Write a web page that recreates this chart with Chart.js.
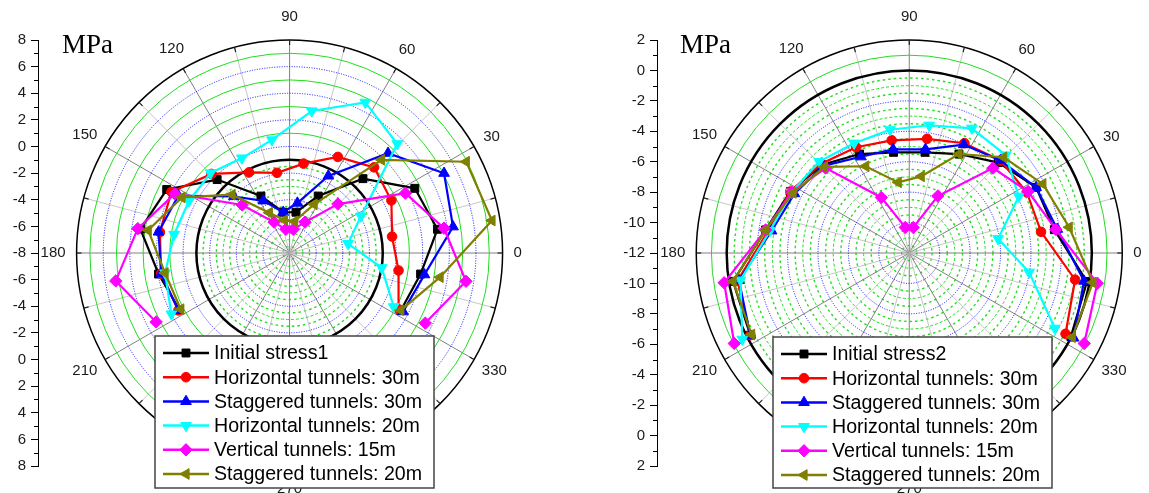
<!DOCTYPE html>
<html>
<head>
<meta charset="utf-8">
<script src="https://cdn.jsdelivr.net/npm/chart.js@4.4.1/dist/chart.umd.min.js"></script>
<style>
  body { margin: 0; background: #fff; width: 1149px; height: 493px; position: relative; overflow: hidden; }
  canvas { position: absolute; top: 0; }
</style>
</head>
<body>
<canvas id="chartLeft" width="575" height="493" style="left:0"></canvas>
<canvas id="chartRight" width="574" height="493" style="left:575px"></canvas>
<script>
// angles (deg) of the measuring points, shared by all series
const angles = [-27, -9, 9, 27, 45, 63, 81, 99, 117, 135, 153, 171, 189, 207];
const angleTicks = [0, 30, 60, 90, 120, 150, 180, 210, 240, 270, 300, 330];

// left panel, radial axis -8 .. 8 MPa
const initial1 = [1.5, 2.1, 3.4, 2.7, -0.1, -3.2, -4.9, -4.9, -3.2, -0.2, 2.5, 3.5, 2.1, 1.4];
const horiz30a = [1.3, 0.4, -0.1, 0.7, 1.1, 0.1, -1.2, -1.9, -1.2, 0.4, 2.1, 2.0, 1.9, 1.5];
const stag30a = [1.7, 2.4, 4.6, 5.2, 2.6, -1.5, -4.2, -4.9, -3.6, -2.0, 1.5, 2.1, 1.9, 1.5];
const horiz20a = [0.9, -0.9, -3.5, -1.9, 3.6, 4.7, 2.8, 0.6, 0.0, 0.5, 0.6, 0.9, 1.6, 2.1];
const vert15a = [3.6, 5.6, 3.9, 1.9, -2.8, -5.4, -6.2, -6.2, -5.4, -2.9, 1.8, 3.7, 5.4, 3.4];
const stag20a = [1.5, 3.6, 7.6, 7.1, 1.9, -3.9, -5.6, -5.5, -4.6, -1.8, 1.2, 2.9, 1.6, 1.3];

// right panel, radial axis -12 .. 2 MPa
const initial2 = [0.1, 0.0, -2.2, -2.5, -3.6, -4.7, -5.3, -5.3, -4.7, -3.8, -3.1, -2.3, -0.1, -0.1];
const horiz30b = [-0.3, -0.8, -3.1, -3.2, -3.4, -3.9, -4.4, -4.5, -4.2, -3.7, -3.1, -2.5, -0.4, -0.1];
const stag30b = [0.3, -0.2, -2.0, -2.5, -3.4, -4.0, -5.1, -5.1, -4.9, -3.9, -3.4, -2.7, -0.5, -0.1];
const horiz20b = [-1.1, -3.9, -6.0, -3.8, -2.9, -2.8, -3.5, -3.8, -3.9, -3.5, -3.2, -2.6, -0.6, 0.5];
const vert15b = [1.1, 0.7, -2.1, -3.1, -4.1, -7.8, -10.3, -10.3, -7.9, -4.1, -3.2, -2.3, 0.5, 1.1];
const stag20b = [0.2, 0.4, -1.2, -2.0, -3.1, -4.7, -6.9, -7.3, -5.6, -4.0, -3.3, -2.3, -0.1, -0.2];

const names1 = ['Initial stress1', 'Horizontal tunnels: 30m', 'Staggered tunnels: 30m',
  'Horizontal tunnels: 20m', 'Vertical tunnels: 15m', 'Staggered tunnels: 20m'];
const names2 = ['Initial stress2', 'Horizontal tunnels: 30m', 'Staggered tunnels: 30m',
  'Horizontal tunnels: 20m', 'Vertical tunnels: 15m', 'Staggered tunnels: 20m'];

const colors = ['#000000', '#ff0000', '#0000ff', '#00ffff', '#ff00ff', '#808000'];
const markers = ['rect', 'circle', 'triangle', 'triangle', 'rectRot', 'triangle'];
const markerRot = [0, 0, 0, 180, 0, -90];
const markerSize = [5.6, 4.8, 6.2, 6.2, 6.2, 6.2];

const FONT = 'Liberation Sans, Arial, sans-serif';

function toXY(vals, rMin) {
  return vals.map((v, i) => {
    const t = angles[i] * Math.PI / 180;
    return { x: (v - rMin) * Math.cos(t), y: (v - rMin) * Math.sin(t) };
  });
}

const polarPlugin = {
  id: 'polar',
  beforeDatasetsDraw(chart, args, o) {
    const ctx = chart.ctx;
    const xs = chart.scales.x, ys = chart.scales.y;
    const cx = xs.getPixelForValue(0), cy = ys.getPixelForValue(0);
    const unit = cy - ys.getPixelForValue(1);
    const rad = v => (v - o.rMin) * unit;
    const R = rad(o.rMax);
    const circle = (r, color, width, dash) => {
      ctx.beginPath();
      ctx.strokeStyle = color;
      ctx.lineWidth = width;
      ctx.setLineDash(dash || []);
      ctx.arc(cx, cy, r, 0, Math.PI * 2);
      ctx.stroke();
    };
    ctx.save();
    // textured minor grid inside the thick ring
    for (let v = o.rMin + 0.5; v < o.ring; v += 1) {
      circle(rad(v), '#22dd22', 1.4, [2.5, 3]);
    }
    // spokes
    ctx.setLineDash([]);
    for (let a = 0; a < 360; a += 15) {
      const t = a * Math.PI / 180;
      ctx.beginPath();
      ctx.strokeStyle = a % 30 === 0 ? '#808080' : '#c6c6c6';
      ctx.lineWidth = 1;
      ctx.moveTo(cx, cy);
      ctx.lineTo(cx + R * Math.cos(t), cy - R * Math.sin(t));
      ctx.stroke();
    }
    // integer rings: green at odd values, blue dotted at even values
    for (let v = o.rMin + 1; v < o.rMax; v++) {
      if (Math.abs(v) % 2 === 1) circle(rad(v), '#20dd20', 1, v < o.ring ? [3, 2] : []);
      else circle(rad(v), '#1010ff', 1, [1, 1.5]);
    }
    circle(rad(o.ring), '#000', 2.5);
    circle(R, '#000', 1.5);
    // ticks on the outer ring
    ctx.setLineDash([]);
    ctx.strokeStyle = '#222';
    ctx.lineWidth = 1.2;
    for (let a = 0; a < 360; a += 15) {
      const t = a * Math.PI / 180;
      ctx.beginPath();
      ctx.moveTo(cx + (R - 5) * Math.cos(t), cy - (R - 5) * Math.sin(t));
      ctx.lineTo(cx + R * Math.cos(t), cy - R * Math.sin(t));
      ctx.stroke();
    }
    ctx.restore();
  },
  afterDraw(chart, args, o) {
    const ctx = chart.ctx;
    const xs = chart.scales.x, ys = chart.scales.y;
    const cx = xs.getPixelForValue(0), cy = ys.getPixelForValue(0);
    const unit = cy - ys.getPixelForValue(1);
    const R = (o.rMax - o.rMin) * unit;
    ctx.save();
    // minor ticks on the radial axis
    ctx.strokeStyle = '#000';
    ctx.lineWidth = 1;
    const span = o.rMax - o.rMin;
    for (let v = -span + 1; v < span; v += 2) {
      const py = Math.round(ys.getPixelForValue(v)) + 0.5;
      ctx.beginPath();
      ctx.moveTo(ys.right - 4, py);
      ctx.lineTo(ys.right, py);
      ctx.stroke();
    }
    // angle labels
    ctx.fillStyle = '#1a1a1a';
    ctx.font = '15px ' + FONT;
    ctx.textAlign = 'center';
    ctx.textBaseline = 'middle';
    angleTicks.forEach(a => {
      const t = a * Math.PI / 180;
      const txt = String(a);
      const w = ctx.measureText(txt).width;
      const c = Math.cos(t), s = Math.sin(t);
      const d = R + 11 + (w / 2) * c * c + 12 * s * s;
      ctx.fillText(txt, cx + d * c, cy - d * s);
    });
    // unit label
    ctx.font = '27px Liberation Serif, Times New Roman, serif';
    ctx.textAlign = 'left';
    ctx.textBaseline = 'alphabetic';
    ctx.fillStyle = '#000';
    ctx.fillText('MPa', o.unitX, 53);
    // legend box
    const lg = o.legend;
    ctx.fillStyle = '#fff';
    ctx.fillRect(lg.x, lg.y, lg.w, lg.h);
    ctx.strokeStyle = '#444';
    ctx.lineWidth = 1.5;
    ctx.strokeRect(lg.x, lg.y, lg.w, lg.h);
    ctx.font = '19.6px ' + FONT;
    ctx.textBaseline = 'middle';
    chart.data.datasets.forEach((ds, i) => {
      const yy = lg.y + 17 + i * 24.2;
      ctx.strokeStyle = ds.borderColor;
      ctx.fillStyle = ds.borderColor;
      ctx.lineWidth = 2.5;
      ctx.beginPath();
      ctx.moveTo(lg.x + 8, yy);
      ctx.lineTo(lg.x + 54, yy);
      ctx.stroke();
      ctx.lineWidth = 1;
      Chart.helpers.drawPoint(ctx, {
        pointStyle: ds.pointStyle, rotation: ds.rotation, radius: ds.pointRadius, borderWidth: 1
      }, lg.x + 31, yy);
      ctx.fillStyle = '#000';
      ctx.fillText(ds.label, lg.x + 59, yy + 1);
    });
    ctx.restore();
  }
};

function makeChart(id, cfg) {
  const canvas = document.getElementById(id);
  const top = 40, bottom = 27;
  const span = cfg.rMax - cfg.rMin;
  const unit = (canvas.height - top - bottom) / (2 * span);
  const xMin = -(cfg.centerX - cfg.axisW) / unit;
  const xMax = (canvas.width - cfg.centerX) / unit;

  const datasets = cfg.series.map((vals, i) => ({
    label: cfg.names[i],
    data: toXY(vals, cfg.rMin),
    showLine: true,
    borderColor: colors[i],
    backgroundColor: colors[i],
    pointBackgroundColor: colors[i],
    pointBorderColor: colors[i],
    pointStyle: markers[i],
    rotation: markerRot[i],
    pointRadius: markerSize[i],
    pointBorderWidth: 1,
    borderWidth: 2.2,
    order: 10 - i,
    clip: false
  }));

  return new Chart(canvas, {
    type: 'scatter',
    data: { datasets },
    plugins: [polarPlugin],
    options: {
      responsive: false,
      animation: false,
      layout: { padding: { top, bottom, left: 0, right: 0 } },
      plugins: {
        legend: { display: false },
        tooltip: { enabled: false },
        polar: { rMin: cfg.rMin, rMax: cfg.rMax, ring: cfg.ring, unitX: cfg.unitX, legend: cfg.legend }
      },
      scales: {
        x: { type: 'linear', display: false, min: xMin, max: xMax },
        y: {
          type: 'linear',
          min: -span,
          max: span,
          afterFit: s => { s.width = cfg.axisW; },
          border: { display: true, color: '#000', width: 1 },
          grid: { drawOnChartArea: false, tickLength: 7, color: '#000' },
          ticks: {
            stepSize: 2,
            autoSkip: false,
            padding: 5,
            color: '#1a1a1a',
            font: { size: 15, family: FONT },
            callback: v => String(Math.abs(v) + cfg.rMin)
          }
        }
      }
    }
  });
}

makeChart('chartLeft', {
  rMin: -8, rMax: 8, ring: -1, centerX: 293, axisW: 38, unitX: 62,
  names: names1,
  series: [initial1, horiz30a, stag30a, horiz20a, vert15a, stag20a],
  legend: { x: 155, y: 336, w: 279, h: 152 }
});

makeChart('chartRight', {
  rMin: -12, rMax: 2, ring: 0, centerX: 338, axisW: 82, unitX: 105,
  names: names2,
  series: [initial2, horiz30b, stag30b, horiz20b, vert15b, stag20b],
  legend: { x: 198, y: 337, w: 279, h: 151 }
});
</script>
</body>
</html>
